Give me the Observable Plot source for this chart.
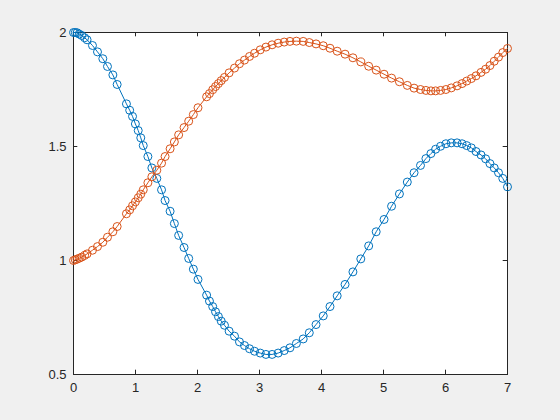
<!DOCTYPE html>
<html>
<head>
<meta charset="utf-8">
<script src="https://cdn.jsdelivr.net/npm/d3@7"></script>
<script src="https://cdn.jsdelivr.net/npm/@observablehq/plot@0.6"></script>
<style>
  html, body { margin: 0; padding: 0; background: #f0f0f0; }
  #chart { width: 560px; height: 420px; }
</style>
</head>
<body>
<div id="chart"></div>
<script>
const t = [0, 0.029, 0.058, 0.092, 0.133, 0.179, 0.219, 0.306, 0.387, 0.473, 0.548, 0.635, 0.704,
  0.854, 0.906, 0.952, 0.998, 1.044, 1.085, 1.125, 1.200, 1.264, 1.344, 1.420, 1.477, 1.558, 1.627,
  1.696, 1.783, 1.858, 1.933, 2.008, 2.147, 2.193, 2.245, 2.291, 2.337, 2.383, 2.435, 2.510, 2.597,
  2.677, 2.758, 2.839, 2.920, 3.012, 3.104, 3.203, 3.301, 3.399, 3.491, 3.595, 3.705, 3.803, 3.912,
  4.028, 4.137, 4.253, 4.380, 4.507, 4.634, 4.761, 4.882, 5.009, 5.130, 5.257, 5.384, 5.493, 5.597,
  5.684, 5.765, 5.840, 5.920, 6.007, 6.093, 6.186, 6.267, 6.342, 6.417, 6.492, 6.573, 6.647, 6.717,
  6.786, 6.855, 6.924, 7.0];

const y1 = [2.000, 2.000, 1.999, 1.993, 1.987, 1.977, 1.968, 1.943, 1.915, 1.885, 1.851, 1.814, 1.772,
  1.687, 1.659, 1.632, 1.599, 1.570, 1.538, 1.504, 1.456, 1.406, 1.360, 1.310, 1.263, 1.216, 1.162,
  1.110, 1.057, 1.009, 0.962, 0.917, 0.848, 0.822, 0.798, 0.775, 0.754, 0.734, 0.716, 0.690, 0.668,
  0.643, 0.627, 0.613, 0.602, 0.594, 0.588, 0.588, 0.594, 0.605, 0.617, 0.636, 0.656, 0.683, 0.719,
  0.757, 0.798, 0.845, 0.895, 0.950, 1.007, 1.064, 1.126, 1.180, 1.238, 1.292, 1.344, 1.385, 1.417,
  1.447, 1.469, 1.488, 1.501, 1.512, 1.516, 1.516, 1.512, 1.504, 1.494, 1.478, 1.463, 1.446, 1.425,
  1.406, 1.385, 1.360, 1.323];

const y2 = [1.000, 1.003, 1.006, 1.010, 1.015, 1.022, 1.029, 1.045, 1.061, 1.080, 1.102, 1.126, 1.149,
  1.205, 1.222, 1.240, 1.257, 1.275, 1.291, 1.310, 1.341, 1.367, 1.396, 1.427, 1.456, 1.490, 1.520,
  1.551, 1.583, 1.611, 1.640, 1.670, 1.718, 1.732, 1.749, 1.763, 1.776, 1.789, 1.803, 1.823, 1.844,
  1.863, 1.879, 1.895, 1.909, 1.924, 1.936, 1.946, 1.953, 1.958, 1.961, 1.962, 1.961, 1.956, 1.950,
  1.942, 1.931, 1.918, 1.905, 1.889, 1.871, 1.852, 1.835, 1.817, 1.800, 1.784, 1.768, 1.756, 1.750,
  1.746, 1.744, 1.744, 1.746, 1.750, 1.757, 1.766, 1.776, 1.787, 1.798, 1.810, 1.825, 1.839, 1.855,
  1.874, 1.892, 1.912, 1.930];

const xTicks = [0, 1, 2, 3, 4, 5, 6, 7];
const yTicks = [0.5, 1, 1.5, 2];
const seriesColors = ["#0072BD", "#D95319"];

const s1 = t.map((x, i) => ({x, y: y1[i]}));
const s2 = t.map((x, i) => ({x, y: y2[i]}));

const W = 560, H = 420;
const mL = 73, mR = 53, mT = 32, mB = 46;
const plotH = H - mT - mB;
const plotW = W - mL - mR;
const tickLen = 4.3;
const axisColor = "#262626";

const chart = Plot.plot({
  width: W,
  height: H,
  marginLeft: mL,
  marginRight: mR,
  marginTop: mT,
  marginBottom: mB,
  style: {background: "#f0f0f0", fontFamily: "'Liberation Sans', Arial, sans-serif", fontSize: "13px", color: axisColor},
  x: {domain: [0, 7]},
  y: {domain: [0.5, 2]},
  marks: [
    Plot.frame({fill: "white", stroke: "none"}),
    Plot.axisX({ticks: xTicks, tickSize: 0, tickPadding: 8, tickFormat: d => String(d), fontSize: 13, fill: axisColor, label: null}),
    Plot.axisY({ticks: yTicks, tickSize: 0, tickPadding: 7, tickFormat: d => String(d), fontSize: 13, fill: axisColor, label: null}),
    // inward ticks, bottom and top
    Plot.tickX(xTicks, {x: d => d, insetTop: plotH - tickLen, stroke: axisColor, strokeWidth: 1}),
    Plot.tickX(xTicks, {x: d => d, insetBottom: plotH - tickLen, stroke: axisColor, strokeWidth: 1}),
    // inward ticks, left and right
    Plot.tickY(yTicks, {y: d => d, insetRight: plotW - tickLen, stroke: axisColor, strokeWidth: 1}),
    Plot.tickY(yTicks, {y: d => d, insetLeft: plotW - tickLen, stroke: axisColor, strokeWidth: 1}),
    Plot.frame({stroke: axisColor, strokeWidth: 1}),
    Plot.line(s1, {x: "x", y: "y", stroke: seriesColors[0], strokeWidth: 1}),
    Plot.dot(s1, {x: "x", y: "y", r: 4, stroke: seriesColors[0], strokeWidth: 1, fill: "none"}),
    Plot.line(s2, {x: "x", y: "y", stroke: seriesColors[1], strokeWidth: 1}),
    Plot.dot(s2, {x: "x", y: "y", r: 4, stroke: seriesColors[1], strokeWidth: 1, fill: "none"})
  ]
});
document.getElementById("chart").appendChild(chart);
</script>
</body>
</html>
